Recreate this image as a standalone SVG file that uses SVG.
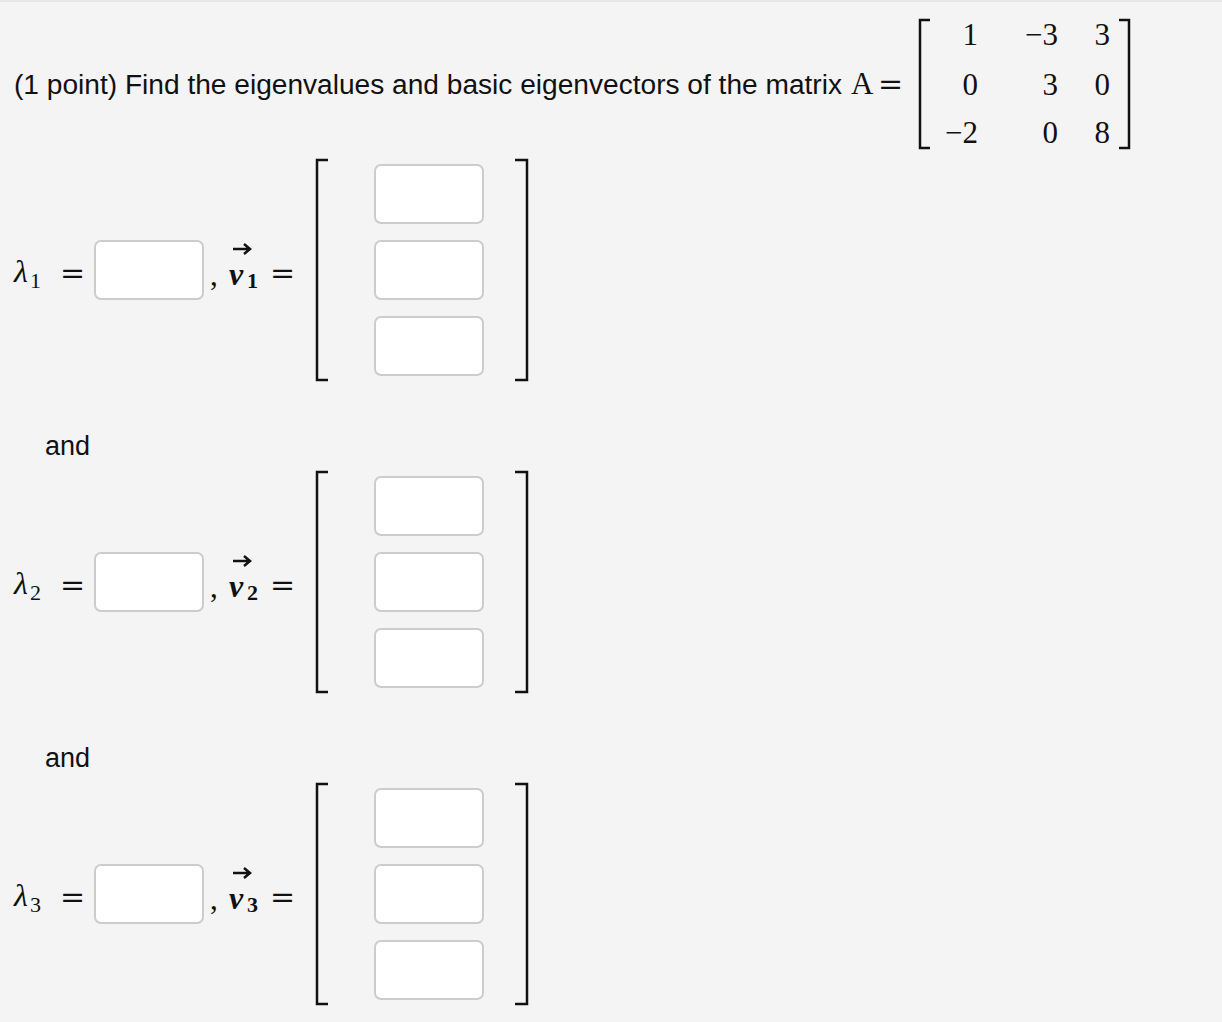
<svg xmlns="http://www.w3.org/2000/svg" width="1222" height="1022" viewBox="0 0 1222 1022">
<style>
.s{font-family:"Liberation Sans",Arial,sans-serif;font-size:27px;fill:#111}
.m{font-family:"Liberation Serif","Times New Roman",serif;font-size:31px;fill:#111}
.eq{font-family:"DejaVu Serif",serif;font-size:30px;fill:#111}
.mi{font-family:"Liberation Serif","Times New Roman",serif;font-size:32px;font-style:italic;fill:#111}
.mb{font-family:"Liberation Serif","Times New Roman",serif;font-size:32px;font-style:italic;font-weight:bold;fill:#111}
.sub{font-family:"Liberation Serif","Times New Roman",serif;font-size:22px;fill:#111}
.subb{font-family:"Liberation Serif","Times New Roman",serif;font-size:22px;font-weight:bold;fill:#111}
.box{fill:#fff;stroke:#ccc;stroke-width:2}
.br{fill:none;stroke:#111;stroke-width:2.5}
</style>
<defs>
<g id="row">
<text class="mi" x="14" y="282">λ</text>
<text class="eq" x="60" y="283">=</text>
<rect class="box" x="95" y="241" width="108" height="58" rx="6"/>
<text class="m" x="210" y="285">,</text>
<text class="mb" x="229" y="285">v</text>
<path d="M233 249 H249 M244 244 L250 249 L244 254" fill="none" stroke="#111" stroke-width="2.5"/>
<text class="eq" x="270" y="283">=</text>
<path class="br" d="M328 160 H317 V380 H328 M515 160 H527 V380 H515"/>
<rect class="box" x="375" y="165" width="108" height="58" rx="6"/>
<rect class="box" x="375" y="241" width="108" height="58" rx="6"/>
<rect class="box" x="375" y="317" width="108" height="58" rx="6"/>
</g>
</defs>
<rect width="1222" height="1022" fill="#f4f4f4"/>
<line x1="0" y1="1" x2="1222" y2="1" stroke="#e6e6e6" stroke-width="2"/>
<g id="question">
<text class="s" x="14" y="94" textLength="828" lengthAdjust="spacingAndGlyphs">(1 point) Find the eigenvalues and basic eigenvectors of the matrix</text>
<text class="m" x="851" y="94">A</text>
<text class="eq" x="878" y="94">=</text>
<path class="br" d="M930 20 H920 V148 H930 M1119 20 H1129 V148 H1119"/>
<g class="m" text-anchor="end">
<text x="978" y="45">1</text><text x="1058" y="45">−3</text><text x="1110" y="45">3</text>
<text x="978" y="95">0</text><text x="1058" y="95">3</text><text x="1110" y="95">0</text>
<text x="978" y="143">−2</text><text x="1058" y="143">0</text><text x="1110" y="143">8</text>
</g>
</g>
<g id="row1"><use href="#row"/><text class="sub" x="30" y="288">1</text><text class="subb" x="247" y="288">1</text></g>
<text id="and1" class="s" x="45" y="455">and</text>
<g id="row2" transform="translate(0,312)"><use href="#row"/><text class="sub" x="30" y="288">2</text><text class="subb" x="247" y="288">2</text></g>
<text id="and2" class="s" x="45" y="767">and</text>
<g id="row3" transform="translate(0,624)"><use href="#row"/><text class="sub" x="30" y="288">3</text><text class="subb" x="247" y="288">3</text></g>
</svg>
